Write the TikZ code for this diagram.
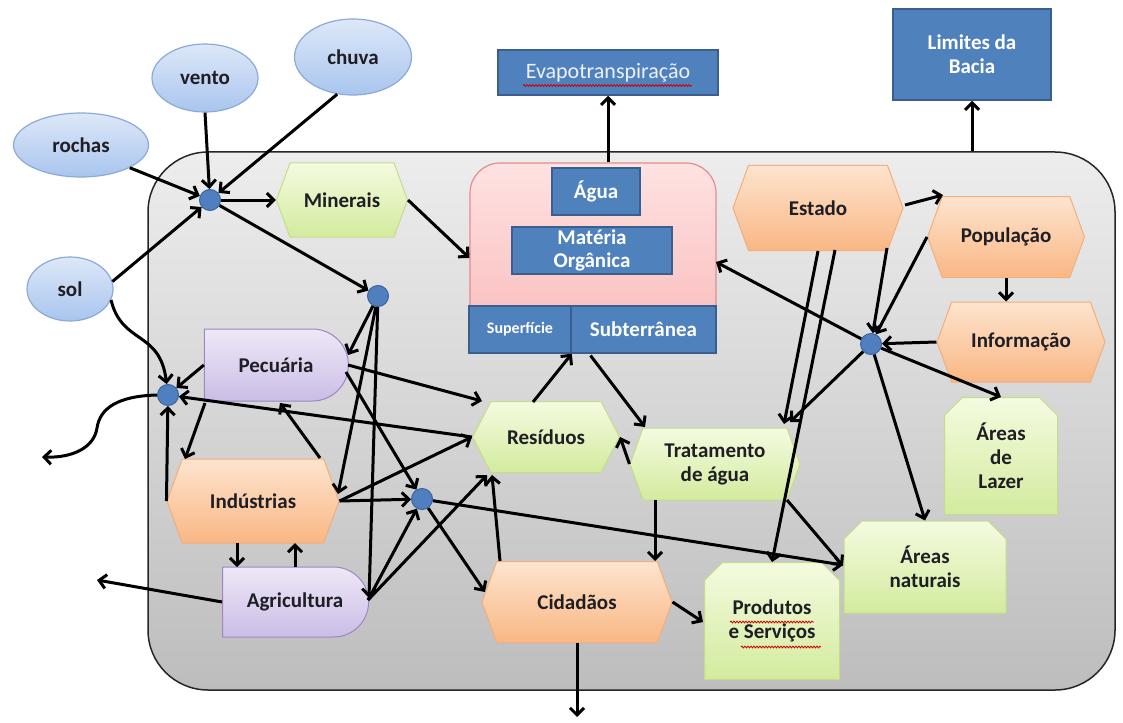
\documentclass[tikz,border=0pt]{standalone}
\usepackage{fontspec}
\setmainfont{Carlito}
\usetikzlibrary{arrows.meta,shapes.geometric,shapes.misc,shapes.symbols,calc,decorations.pathmorphing}

\definecolor{txt}{HTML}{1E1E24}
\definecolor{ellTop}{HTML}{DDE8F8}
\definecolor{ellBot}{HTML}{A9C5EE}
\definecolor{ellLine}{HTML}{8CAAD8}
\definecolor{dotFill}{HTML}{4F7FBF}
\definecolor{dotLine}{HTML}{3B659E}
\definecolor{boxFill}{HTML}{4F81BD}
\definecolor{boxLine}{HTML}{3A5F8F}
\definecolor{pinkTop}{HTML}{FFE2E2}
\definecolor{pinkBot}{HTML}{F9B9B9}
\definecolor{pinkLine}{HTML}{E58C8C}
\definecolor{grTop}{HTML}{F4FBE0}
\definecolor{grBot}{HTML}{D3EB9E}
\definecolor{grLine}{HTML}{C4DD8A}
\definecolor{orTop}{HTML}{FDE4CE}
\definecolor{orBot}{HTML}{F9B784}
\definecolor{orLine}{HTML}{F2AE7C}
\definecolor{puTop}{HTML}{EEE8F7}
\definecolor{puBot}{HTML}{CBBDE6}
\definecolor{puLine}{HTML}{9D86C6}
\definecolor{bgTop}{HTML}{EDEDED}
\definecolor{bgBot}{HTML}{BDBDBD}

\tikzset{
  sz/.style 2 args={minimum width=#1pt, minimum height=#2pt},
  lbl/.style={font=\bfseries\fontsize{21}{24}\selectfont, text=txt, align=center, inner sep=0pt},
  cloud/.style={ellipse, lbl, top color=ellTop, bottom color=ellBot, draw=ellLine, line width=1.2pt},
  dot/.style={circle, fill=dotFill, draw=dotLine, line width=1pt, minimum size=21pt, inner sep=0pt},
  bluebox/.style={rectangle, lbl, text=white, fill=boxFill, draw=boxLine, line width=1.5pt},
  hexor/.style={signal, signal to=east and west, signal pointer angle=140, lbl,
    top color=orTop, bottom color=orBot, draw=orLine, line width=1pt},
  hexgr/.style={signal, signal to=east and west, signal pointer angle=140, lbl,
    top color=grTop, bottom color=grBot, draw=grLine, line width=1pt},
  dshape/.style={rounded rectangle, rounded rectangle left arc=none, lbl,
    top color=puTop, bottom color=puBot, draw=puLine, line width=1pt},
  clipbox/.style={chamfered rectangle, chamfered rectangle corners={north west,north east},
    chamfered rectangle xsep=8pt, chamfered rectangle ysep=10pt, lbl,
    top color=grTop, bottom color=grBot, draw=grLine, line width=1pt},
  link/.style={line width=3pt, draw=black, -{Straight Barb[length=7pt,width=14pt]}},
  squiggle/.style={draw=red!80!black, line width=0.8pt, decorate,
    decoration={snake, amplitude=0.9pt, segment length=3pt}},
}

\begin{document}
\begin{tikzpicture}[x=1pt, y=-1pt]
\useasboundingbox (0,0) rectangle (1123,722);
\fill[white] (0,0) rectangle (1123,722);

% river basin frame
\node[rectangle, rounded corners=60pt, top color=bgTop, bottom color=bgBot,
      draw=black!85, line width=1.5pt, sz={967}{538}] (bacia) at (631.5,421) {};

% external elements
\node[cloud, sz={135}{64}] (rochas) at (81,145) {rochas};
\node[cloud, sz={106}{68}] (vento) at (205,78) {vento};
\node[cloud, sz={117}{76}] (chuva) at (353,57) {chuva};
\node[cloud, sz={86}{64}] (sol) at (70,289) {sol};

\node[bluebox, sz={220}{45}, font=\fontsize{22}{24}\selectfont, text=blue!6!white] (evap) at (608,72.5) {Evapotranspiração};
\node[bluebox, sz={158}{91}] (limites) at (972,54.5) {Limites da\\Bacia};

% water body
\node[rectangle, rounded corners=30pt, top color=pinkTop, bottom color=pinkBot,
      draw=pinkLine, line width=1.2pt, sz={246}{190}] (massa) at (593,258) {};
\node[bluebox, sz={102}{47}, font=\bfseries\fontsize{16}{18}\selectfont] (superficie) at (520,329.5) {Superfície};
\node[bluebox, sz={145}{47}] (subterranea) at (643.5,329.5) {Subterrânea};
\node[bluebox, sz={88}{47}] (agua) at (596,191.5) {Água};
\node[bluebox, sz={160}{47}, font=\bfseries\fontsize{21}{23}\selectfont] (materia) at (592,250.5) {Matéria\\Orgânica};

% system components
\node[hexgr, sz={131}{74}] (minerais) at (342,200) {Minerais};
\node[hexor, sz={170}{85}] (estado) at (818,208) {Estado};
\node[hexor, sz={157}{81}] (populacao) at (1006,237) {População};
\node[hexor, sz={168}{80}] (informacao) at (1021,342) {Informação};
\node[hexgr, sz={170}{72}] (tratamento) at (715,464) {Tratamento\\de água};
\node[hexgr, sz={147}{71}, signal pointer angle=125] (residuos) at (546,437) {Resíduos};
\node[hexor, sz={190}{81}] (cidadaos) at (577,602) {Cidadãos};
\node[hexor, sz={172}{84}] (industrias) at (253,501) {Indústrias};
\node[dshape, sz={144}{72}] (pecuaria) at (276,365) {Pecuária};
\node[dshape, sz={146}{70}] (agricultura) at (295,602) {Agricultura};
\node[clipbox, sz={113}{117}] (lazer) at (1001,456) {Áreas\\de\\Lazer};
\node[clipbox, sz={162}{92}] (naturais) at (925,567) {Áreas\\naturais};
\node[clipbox, sz={135}{117}] (produtos) at (772,621) {Produtos\\e Serviços};

% spell-check marks
\draw[squiggle] ($(evap)+(-85,13)$) -- ($(evap)+(84,13)$);
\draw[squiggle] ($(produtos)+(-42,1)$) -- ($(produtos)+(42,1)$);
\draw[squiggle] ($(produtos)+(-31,26)$) -- ($(produtos)+(49,26)$);

% junctions
\node[dot] (j1) at (210,200) {};
\node[dot] (j2) at (378,296) {};
\node[dot] (j3) at (168,395) {};
\node[dot] (j4) at (422,499) {};
\node[dot] (j5) at (871,344) {};

\coordinate (out1) at (42,457);
\coordinate (out2) at (97,580);
\coordinate (out3) at (577,717);

% inputs to the first junction
\draw[link] (rochas.-25) -- (j1);
\draw[link] (vento.south) -- (j1);
\draw[link] (chuva.247) -- (j1);
\draw[link] (sol.10) -- (j1);
\draw[link] (j1) -- (minerais.west);
\draw[link] (j1) -- (j2);
\draw[link] (minerais.east) -- (massa.west);

% left junction
\draw[link] (sol.-15) .. controls (122,345) and (160,330) .. (j3);
\draw[link] (pecuaria.west) -- (j3);
\draw[link] (industrias.west) -- (j3);
\draw[link] (residuos.west) -- (j3);
\draw[link] (j3.180) .. controls (118,396) and (100,408) .. (97,428)
               .. controls (94,448) and (72,458) .. (out1);

% production sectors
\draw[link] ($(pecuaria)+(-71,38)$) -- ($(industrias)+(-68,-42)$);
\draw[link] ($(industrias)+(67,-43)$) -- ($(pecuaria)+(4,38)$);
\draw[link] (j2) -- ($(pecuaria)+(72,-10)$);
\draw[link] (j2) -- ($(industrias)+(85,-7)$);
\draw[link] (j2) -- ($(agricultura)+(74,-4)$);
\draw[link] ($(pecuaria)+(70,7)$) -- (j4);
\draw[link] ($(pecuaria)+(72,0)$) -- ($(residuos)+(-64,-36)$);
\draw[link] (industrias.east) -- (j4);
\draw[link] (industrias.east) -- (residuos.west);
\draw[link] ($(agricultura)+(73,-2)$) -- (j4);
\draw[link] ($(agricultura)+(73,-2)$) -- ($(residuos)+(-59,38)$);
\draw[link] ($(industrias)+(-16,42)$) -- ($(agricultura)+(-58,-35)$);
\draw[link] ($(agricultura)+(0,-35)$) -- ($(industrias)+(42,42)$);
\draw[link] (agricultura.west) -- (out2);

% water and waste
\draw[link] ($(cidadaos)+(-77,-41)$) -- ($(residuos)+(-54,38)$);
\draw[link] (j4) -- ($(cidadaos)+(-92,-10)$);
\draw[link] (j4) -- ($(naturais)+(-82,-2)$);
\draw[link] ($(residuos)+(-13,-35)$) -- (superficie.south east);
\draw[link] ($(subterranea)+(-53,26)$) -- ($(tratamento)+(-70,-37)$);
\draw[link] (tratamento.west) -- (residuos.east);
\draw[link] ($(tratamento)+(-60,36)$) -- ($(cidadaos)+(78,-41)$);
\draw[link] ($(tratamento)+(72,36)$) -- ($(naturais)+(-82,-1)$);
\draw[link] (cidadaos.east) -- ($(produtos)+(-69,1)$);
\draw[link] (cidadaos.south) -- (out3);
\draw[link] (evap.south |- massa.north) -- (evap.south);
\draw[link] (limites.south |- bacia.north) -- (limites.south);

% governance
\draw[link] ($(estado)+(87,-3)$) -- ($(populacao)+(-63,-42)$);
\draw[link] (populacao.south) -- (populacao.south |- informacao.north);
\draw[link] (informacao.west) -- (j5);
\draw[link] ($(estado)+(69,40)$) -- (j5);
\draw[link] (populacao.west) -- (j5);
\draw[link] (j5) -- ($(massa)+(123,4)$);
\draw[link] (j5) -- (lazer.north);
\draw[link] (j5) -- (naturais.north);
\draw[link] (j5) -- ($(tratamento)+(75,-42)$);
\draw[link] (estado.south) -- ($(tratamento)+(69,-40)$);
\draw[link] ($(estado)+(17,42)$) -- (produtos.north);
\end{tikzpicture}
\end{document}
